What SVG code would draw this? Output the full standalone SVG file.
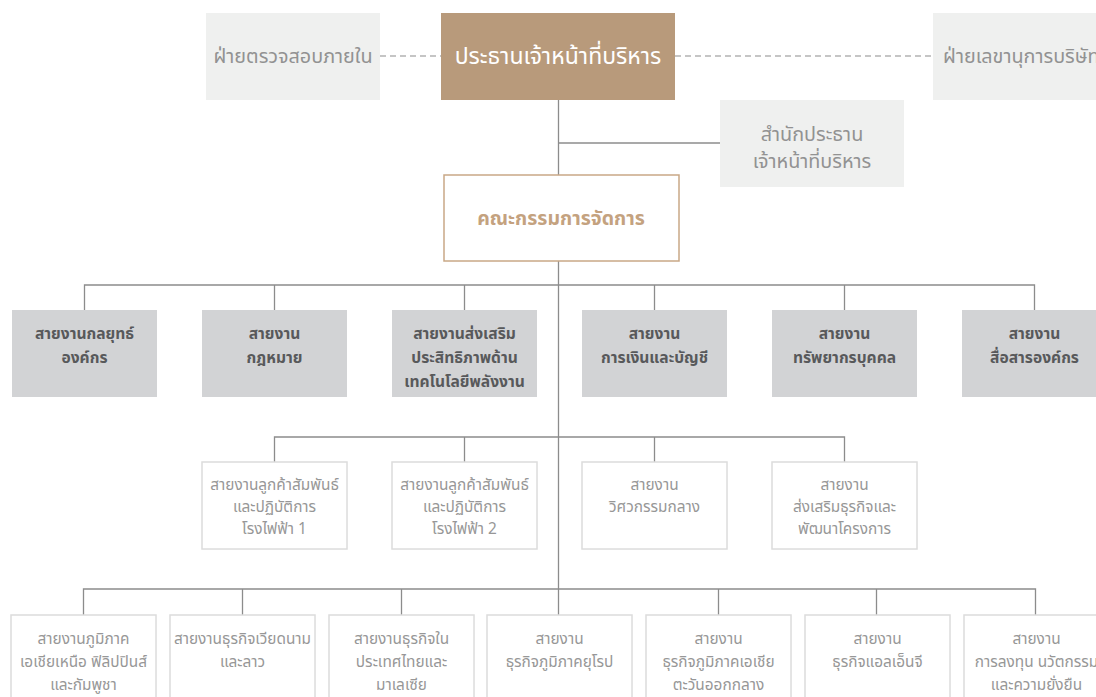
<svg xmlns="http://www.w3.org/2000/svg" width="1096" height="697" viewBox="0 0 1096 697">
<style>
text{font-family:"Noto Sans Thai","Noto Sans","Liberation Sans",sans-serif;text-anchor:middle}
.side{fill:#eff0ef}
.sideT{font-size:19.8px;fill:#929292}
.ceo{fill:#b89a7b}
.ceoT{font-size:23px;fill:#ffffff}
.mc{fill:#ffffff;stroke:#c9a886;stroke-width:1.5}
.mcT{font-size:19.5px;font-weight:bold;fill:#c4a27f}
.g{fill:#d2d3d5}
.gT{font-size:15.6px;font-weight:bold;fill:#58595b}
.w{fill:#ffffff;stroke:#dcdcdc;stroke-width:1.5}
.wT{font-size:15.4px;fill:#979797}
.ln{fill:none;stroke:#8c8c8c;stroke-width:1.3}
.dash{fill:none;stroke:#8c8c8c;stroke-width:1.2;stroke-dasharray:6 4}
</style>
<g id="connectors">
<line class="dash" x1="380" y1="56" x2="441" y2="56"/>
<line class="dash" x1="675" y1="56" x2="933" y2="56"/>
<line class="ln" x1="558.5" y1="100" x2="558.5" y2="589"/>
<line class="ln" x1="558.5" y1="143" x2="720" y2="143"/>
<polyline class="ln" points="84.5,310 84.5,285 1034.5,285 1034.5,310"/>
<line class="ln" x1="274.5" y1="285" x2="274.5" y2="310"/>
<line class="ln" x1="464.5" y1="285" x2="464.5" y2="310"/>
<line class="ln" x1="654.5" y1="285" x2="654.5" y2="310"/>
<line class="ln" x1="844.5" y1="285" x2="844.5" y2="310"/>
<polyline class="ln" points="274.5,462 274.5,437 844.5,437 844.5,462"/>
<line class="ln" x1="464.5" y1="437" x2="464.5" y2="462"/>
<line class="ln" x1="654.5" y1="437" x2="654.5" y2="462"/>
<polyline class="ln" points="83.5,615 83.5,589 1035.5,589 1035.5,615"/>
<line class="ln" x1="242.5" y1="589" x2="242.5" y2="615"/>
<line class="ln" x1="401.5" y1="589" x2="401.5" y2="615"/>
<line class="ln" x1="558.5" y1="589" x2="558.5" y2="615"/>
<line class="ln" x1="718.5" y1="589" x2="718.5" y2="615"/>
<line class="ln" x1="876.5" y1="589" x2="876.5" y2="615"/>
</g>
<g id="audit"><rect class="side" x="206" y="13" width="174" height="87"/><text class="sideT" x="293" y="63">ฝ่ายตรวจสอบภายใน</text></g>
<g id="ceo"><rect class="ceo" x="441" y="13" width="234" height="87"/><text class="ceoT" x="558" y="64">ประธานเจ้าหน้าที่บริหาร</text></g>
<g id="secretary"><rect class="side" x="933" y="13" width="175" height="87"/><text class="sideT" x="943" y="63" style="text-anchor:start">ฝ่ายเลขานุการบริษัท</text></g>
<g id="ceo-office"><rect class="side" x="720" y="100" width="184" height="87"/><text class="sideT" x="812" y="141">สำนักประธาน</text><text class="sideT" x="812" y="168">เจ้าหน้าที่บริหาร</text></g>
<g id="mgmt"><rect class="mc" x="444" y="175" width="235" height="86"/><text class="mcT" x="561" y="225">คณะกรรมการจัดการ</text></g>
<g id="r1-1"><rect class="g" x="12" y="310" width="145" height="87"/><text class="gT" x="84.5" y="339">สายงานกลยุทธ์</text><text class="gT" x="84.5" y="363">องค์กร</text></g>
<g id="r1-2"><rect class="g" x="202" y="310" width="145" height="87"/><text class="gT" x="274.5" y="339">สายงาน</text><text class="gT" x="274.5" y="363">กฎหมาย</text></g>
<g id="r1-3"><rect class="g" x="392" y="310" width="145" height="87"/><text class="gT" x="464.5" y="339">สายงานส่งเสริม</text><text class="gT" x="464.5" y="363">ประสิทธิภาพด้าน</text><text class="gT" x="464.5" y="387">เทคโนโลยีพลังงาน</text></g>
<g id="r1-4"><rect class="g" x="582" y="310" width="145" height="87"/><text class="gT" x="654.5" y="339">สายงาน</text><text class="gT" x="654.5" y="363">การเงินและบัญชี</text></g>
<g id="r1-5"><rect class="g" x="772" y="310" width="145" height="87"/><text class="gT" x="844.5" y="339">สายงาน</text><text class="gT" x="844.5" y="363">ทรัพยากรบุคคล</text></g>
<g id="r1-6"><rect class="g" x="962" y="310" width="145" height="87"/><text class="gT" x="1034.5" y="339">สายงาน</text><text class="gT" x="1034.5" y="363">สื่อสารองค์กร</text></g>
<g id="r2-1"><rect class="w" x="202" y="462" width="145" height="87"/><text class="wT" x="274.5" y="490">สายงานลูกค้าสัมพันธ์</text><text class="wT" x="274.5" y="512">และปฏิบัติการ</text><text class="wT" x="274.5" y="534">โรงไฟฟ้า 1</text></g>
<g id="r2-2"><rect class="w" x="392" y="462" width="145" height="87"/><text class="wT" x="464.5" y="490">สายงานลูกค้าสัมพันธ์</text><text class="wT" x="464.5" y="512">และปฏิบัติการ</text><text class="wT" x="464.5" y="534">โรงไฟฟ้า 2</text></g>
<g id="r2-3"><rect class="w" x="582" y="462" width="145" height="87"/><text class="wT" x="654.5" y="490">สายงาน</text><text class="wT" x="654.5" y="512">วิศวกรรมกลาง</text></g>
<g id="r2-4"><rect class="w" x="772" y="462" width="145" height="87"/><text class="wT" x="844.5" y="490">สายงาน</text><text class="wT" x="844.5" y="512">ส่งเสริมธุรกิจและ</text><text class="wT" x="844.5" y="534">พัฒนาโครงการ</text></g>
<g id="r3-1"><rect class="w" x="11" y="615" width="145" height="90"/><text class="wT" x="83.5" y="644">สายงานภูมิภาค</text><text class="wT" x="83.5" y="667">เอเชียเหนือ ฟิลิปปินส์</text><text class="wT" x="83.5" y="690">และกัมพูชา</text></g>
<g id="r3-2"><rect class="w" x="170" y="615" width="145" height="90"/><text class="wT" x="242.5" y="644">สายงานธุรกิจเวียดนาม</text><text class="wT" x="242.5" y="667">และลาว</text></g>
<g id="r3-3"><rect class="w" x="329" y="615" width="145" height="90"/><text class="wT" x="401.5" y="644">สายงานธุรกิจใน</text><text class="wT" x="401.5" y="667">ประเทศไทยและ</text><text class="wT" x="401.5" y="690">มาเลเซีย</text></g>
<g id="r3-4"><rect class="w" x="487" y="615" width="145" height="90"/><text class="wT" x="559.5" y="644">สายงาน</text><text class="wT" x="559.5" y="667">ธุรกิจภูมิภาคยุโรป</text></g>
<g id="r3-5"><rect class="w" x="646" y="615" width="145" height="90"/><text class="wT" x="718.5" y="644">สายงาน</text><text class="wT" x="718.5" y="667">ธุรกิจภูมิภาคเอเชีย</text><text class="wT" x="718.5" y="690">ตะวันออกกลาง</text></g>
<g id="r3-6"><rect class="w" x="805" y="615" width="145" height="90"/><text class="wT" x="877.5" y="644">สายงาน</text><text class="wT" x="877.5" y="667">ธุรกิจแอลเอ็นจี</text></g>
<g id="r3-7"><rect class="w" x="964" y="615" width="145" height="90"/><text class="wT" x="1036.5" y="644">สายงาน</text><text class="wT" x="1036.5" y="667">การลงทุน นวัตกรรม</text><text class="wT" x="1036.5" y="690">และความยั่งยืน</text></g>
</svg>
